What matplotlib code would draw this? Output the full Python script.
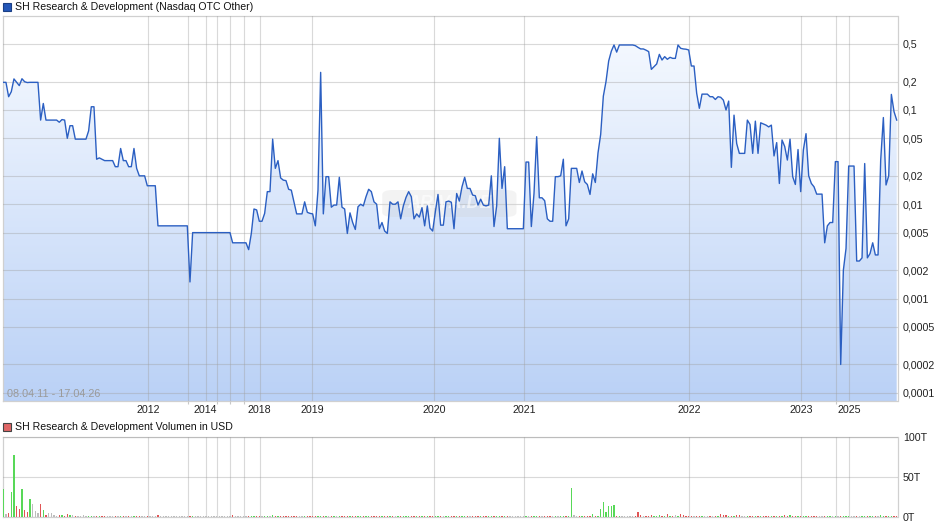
import numpy as np
import matplotlib
matplotlib.use("Agg")
import matplotlib.pyplot as plt
from matplotlib.patches import Rectangle, FancyBboxPatch
from matplotlib.colors import LinearSegmentedColormap
from matplotlib.ticker import FixedLocator, NullLocator

plt.rcParams['font.family'] = ['Liberation Sans', 'DejaVu Sans']

# ---------------- data ----------------
price = [
    0.196, 0.196, 0.138, 0.156, 0.213, 0.196, 0.181, 0.214, 0.199, 0.195,
    0.196, 0.196, 0.196, 0.196, 0.078, 0.117, 0.078, 0.078, 0.078, 0.078,
    0.078, 0.074, 0.079, 0.078, 0.050, 0.068, 0.068, 0.049, 0.049, 0.049,
    0.049, 0.049, 0.060, 0.108, 0.108, 0.030, 0.031, 0.030, 0.029, 0.029,
    0.029, 0.029, 0.025, 0.025, 0.039, 0.029, 0.029, 0.025, 0.025, 0.039,
    0.024, 0.020, 0.020, 0.020, 0.0157, 0.0157, 0.0157, 0.0157, 0.0059, 0.0059,
    0.0059, 0.0059, 0.0059, 0.0059, 0.0059, 0.0059, 0.0059, 0.0059, 0.0059, 0.0059,
    0.0015, 0.0050, 0.0050, 0.0050, 0.0050, 0.0050, 0.0050, 0.0050, 0.0050, 0.0050,
    0.0050, 0.0050, 0.0050, 0.0050, 0.0050, 0.0050, 0.0039, 0.0039, 0.0039, 0.0039,
    0.0039, 0.0039, 0.0033, 0.0049, 0.0089, 0.0087, 0.0066, 0.0066, 0.0080, 0.0136,
    0.0136, 0.049, 0.024, 0.029, 0.019, 0.018, 0.0178, 0.0144, 0.0141, 0.0106,
    0.0079, 0.0079, 0.0079, 0.0106, 0.0082, 0.0080, 0.0079, 0.0059, 0.0141, 0.250,
    0.0079, 0.0196, 0.0196, 0.0093, 0.0098, 0.0098, 0.0193, 0.0093, 0.0089, 0.0049,
    0.0081, 0.0064, 0.0054, 0.0094, 0.0100, 0.0096, 0.0120, 0.0144, 0.0136, 0.0106,
    0.0100, 0.0055, 0.0064, 0.0052, 0.0049, 0.0106, 0.0100, 0.0100, 0.0106, 0.0070,
    0.0096, 0.0118, 0.0136, 0.0120, 0.0070, 0.0079, 0.0073, 0.0092, 0.0059, 0.0096,
    0.0056, 0.0052, 0.0083, 0.0127, 0.0060, 0.0060, 0.0106, 0.0108, 0.0105, 0.0055,
    0.0130, 0.0108, 0.0153, 0.0193, 0.0147, 0.0147, 0.0125, 0.0123, 0.0098, 0.0113,
    0.0098, 0.0096, 0.0098, 0.0200, 0.0058, 0.0096, 0.050, 0.0147, 0.025, 0.0055,
    0.0055, 0.0055, 0.0055, 0.0055, 0.0055, 0.0055, 0.028, 0.028, 0.0058, 0.0130,
    0.052, 0.0117, 0.0117, 0.0109, 0.0070, 0.0066, 0.0066, 0.0196, 0.0196, 0.0200,
    0.030, 0.0059, 0.0070, 0.024, 0.024, 0.024, 0.017, 0.0225, 0.0173, 0.0162,
    0.0127, 0.021, 0.017, 0.035, 0.055, 0.14, 0.20, 0.33, 0.42, 0.488,
    0.41, 0.488, 0.488, 0.488, 0.488, 0.488, 0.488, 0.48, 0.46, 0.443,
    0.443, 0.43, 0.415, 0.269, 0.287, 0.307, 0.388, 0.338, 0.367, 0.344,
    0.361, 0.352, 0.352, 0.488, 0.45, 0.443, 0.44, 0.432, 0.292, 0.292,
    0.150, 0.104, 0.147, 0.147, 0.147, 0.138, 0.138, 0.129, 0.138, 0.136,
    0.127, 0.0998, 0.124, 0.0246, 0.088, 0.044, 0.0346, 0.0346, 0.0346, 0.078,
    0.070, 0.0346, 0.076, 0.0346, 0.073, 0.071, 0.069, 0.066, 0.069, 0.0325,
    0.045, 0.0166, 0.048, 0.041, 0.0294, 0.049, 0.0196, 0.0162, 0.038, 0.0136,
    0.0376, 0.056, 0.020, 0.0166, 0.0153, 0.0128, 0.0128, 0.0128, 0.0039, 0.0059,
    0.0064, 0.0064, 0.0283, 0.0283, 0.0002, 0.0020, 0.0034, 0.0254, 0.0254, 0.0254,
    0.0025, 0.0025, 0.0027, 0.027, 0.0027, 0.0030, 0.0039, 0.0029, 0.0029, 0.0294,
    0.083, 0.016, 0.020, 0.146, 0.0958, 0.078,
]

# volume in thousands of USD (T)
volume = [
    35, 4, 5.5, 31.5, 77.7, 13.4, 9.7, 35, 8.4, 6.3, 22, 16, 7, 5, 16, 8.4, 2, 4.6, 4.6, 2,
    1.7, 2, 2, 1.3, 3.3, 2, 2, 1.3, 1, 1, 2, 1.5, 1, 1, 1, 1, 1, 1, 1, 1,
    1, 1, 1, 1, 1, 1, 1, 1, 1, 1, 1, 1, 1, 1, 1, 1, 1, 1, 2.5, 1,
    1, 1, 1, 1, 1, 1, 1, 1, 1, 1, 1, 1, 1, 1, 1, 1, 1, 1, 1, 1,
    1, 1, 1, 1, 1, 1, 2.5, 1, 1, 1, 1, 1, 1, 1, 1, 1, 1, 1, 1, 1.5,
    1, 2, 1, 1.5, 1, 1.5, 1, 1, 1, 1, 1, 1, 1, 1, 1, 1, 1, 1, 1, 1,
    1, 1.5, 1, 1, 1, 1, 1, 1, 1, 1.5, 1, 1, 1, 1, 1, 1, 1, 1.5, 1, 1.5,
    1, 1.5, 1, 1, 1, 1.5, 1, 1, 1, 1, 1, 1, 1, 1, 1, 1, 1, 1, 1, 1,
    1, 1, 1, 1, 1, 1, 1, 1, 1, 1, 1, 1.5, 1.5, 1.5, 1, 1, 1, 1, 1, 1,
    1.5, 1, 1, 1, 1, 1, 1, 1, 1, 1, 1, 1, 1, 1, 1, 1, 1, 1, 1, 1,
    1, 1, 1, 1, 1, 1, 1.8, 1, 1, 1, 1, 1, 1, 36, 2, 1, 1, 1, 1, 1,
    1, 4, 1.5, 1.5, 10.5, 18.5, 6, 13.4, 13.4, 14.7, 1.5, 1, 1, 1, 1, 1, 1, 1, 6, 2.3,
    1, 1, 1, 2.5, 1, 1.5, 2.5, 1, 1, 3.7, 1, 1, 2.9, 1, 3.7, 2.9, 1, 1, 1.5, 1,
    1, 1, 1, 1, 1, 1.5, 1.5, 1.5, 1, 3.7, 2.9, 2.9, 1, 1, 1, 2.9, 2.9, 1, 1, 1,
    1, 1, 1, 1.5, 1, 1.5, 1, 1, 1, 1, 1, 1, 1, 2.9, 1, 2.9, 1, 1, 1, 1,
    1, 1.5, 1, 1, 1, 1, 1, 1, 1, 1, 1, 1, 1.5, 1, 1, 1, 1, 1, 1, 1,
    1, 1, 1, 1.5, 1, 1, 1, 1, 1, 2.9, 1, 1, 1.5, 1, 1, 1,
]

year_labels = ['2012', '2014', '2018', '2019', '2020', '2021', '2022', '2023', '2025']
year_pos = [54.3, 75.9, 96.1, 115.9, 161.6, 195.4, 257.2, 299.2, 317.2]
extra_grid_pos = [69.3, 80.0, 84.9, 90.1, 312.4]

price_ticks = [0.5, 0.2, 0.1, 0.05, 0.02, 0.01, 0.005, 0.002, 0.001, 0.0005, 0.0002, 0.0001]
price_tick_labels = ['0,5', '0,2', '0,1', '0,05', '0,02', '0,01', '0,005', '0,002',
                     '0,001', '0,0005', '0,0002', '0,0001']
vol_ticks = [0, 50, 100]
vol_tick_labels = ['0T', '50T', '100T']

title_price = 'SH Research & Development (Nasdaq OTC Other)'
title_vol = 'SH Research & Development Volumen in USD'
date_range = '08.04.11 - 17.04.26'

# ---------------- figure ----------------
W, H = 940, 526
fig = plt.figure(figsize=(W / 100, H / 100), dpi=100)
fig.patch.set_facecolor('white')


def px_axes(l, t, r, b):
    return fig.add_axes([l / W, 1 - b / H, (r - l) / W, (b - t) / H])


ax = px_axes(3, 16, 897.5, 401)
axv = px_axes(3, 437, 897.5, 517)

x = np.arange(len(price))
p = np.array(price)
XL = (-0.11, 335.3)

ax.set_yscale('log')

# gradient fill under the line
poly = ax.fill_between(x, p, 1e-7, facecolor='none', edgecolor='none', lw=0)
cmap = LinearSegmentedColormap.from_list('g', ['#bad1f6', '#d9e6fb', '#f8fbff'])
grad = np.linspace(0, 1, 256).reshape(-1, 1)
im = ax.imshow(grad, cmap=cmap, aspect='auto', extent=[0, 1, 0, 1],
               transform=ax.transAxes, origin='lower', zorder=1, interpolation='bilinear')
im.set_clip_path(poly.get_paths()[0], transform=ax.transData)

ax.plot(x, p, color='#2b5fc2', lw=1.0, zorder=4)

ax.set_xlim(*XL)
ax.set_ylim(8.2e-5, 0.99)

ax.yaxis.set_major_locator(FixedLocator(price_ticks))
ax.yaxis.set_minor_locator(NullLocator())
ax.set_yticklabels(price_tick_labels)
ax.yaxis.tick_right()
ax.xaxis.set_major_locator(FixedLocator(year_pos))
ax.xaxis.set_minor_locator(FixedLocator(extra_grid_pos))
ax.set_xticklabels(year_labels)

for a in (ax, axv):
    a.set_axisbelow(False)
    a.grid(True, which='both', color='#a0a0a0', alpha=0.4, lw=0.8)
    for s in a.spines.values():
        s.set_color('#d0d0d0')
        s.set_linewidth(0.9)
    a.tick_params(axis='y', which='both', length=0, pad=4, labelsize=7.7, labelcolor='#222222')
    a.tick_params(axis='x', which='major', length=0, pad=3, labelsize=7.7, labelcolor='#222222')
    a.tick_params(axis='x', which='minor', length=2.5, color='#c8c8c8', width=0.8)
    a.set_facecolor('white')

# watermark
wm = FancyBboxPatch((0.428, 0.482), 0.142, 0.062, boxstyle='round,pad=0.004,rounding_size=0.012',
                    transform=ax.transAxes, facecolor='#d0d0d0', edgecolor='none', alpha=0.25, zorder=3)
ax.add_patch(wm)
ax.text(0.499, 0.513, 'ARIVA.DE', transform=ax.transAxes, ha='center', va='center',
        fontsize=13, fontweight='bold', style='italic', color='white', alpha=0.6, zorder=3)

fig.text(7 / W, 1 - 394 / H, date_range, fontsize=7.8, color='#9a9a9a', va='center', ha='left')

# volume bars
vol = np.array(volume, dtype=float)
diff = np.diff(p, prepend=p[0] * 0.9)
colors = np.where(diff > 0, '#58d858', np.where(diff < 0, '#e05555', '#bdbdbd'))
axv.bar(x, vol, width=0.55, color=colors, zorder=3, linewidth=0, antialiased=False)
axv.set_xlim(*XL)
axv.set_ylim(0, 100)
axv.yaxis.set_major_locator(FixedLocator(vol_ticks))
axv.set_yticklabels(vol_tick_labels)
axv.yaxis.tick_right()
axv.xaxis.set_major_locator(FixedLocator(year_pos))
axv.xaxis.set_minor_locator(FixedLocator(extra_grid_pos))
axv.set_xticklabels([])
axv.tick_params(axis='x', which='both', length=0)

# legend-like titles
fig.patches.append(Rectangle((3 / W, 1 - 11 / H), 8 / W, 8 / H, transform=fig.transFigure,
                             facecolor='#2457b8', edgecolor='#1b3f85', lw=0.8))
fig.text(15 / W, 1 - 7 / H, title_price, fontsize=7.55, color='#111111', va='center', ha='left')
fig.patches.append(Rectangle((3 / W, 1 - 431 / H), 8 / W, 8 / H, transform=fig.transFigure,
                             facecolor='#e06666', edgecolor='#444444', lw=0.8))
fig.text(15 / W, 1 - 427 / H, title_vol, fontsize=7.55, color='#111111', va='center', ha='left')

fig.savefig('out.png', dpi=100)
